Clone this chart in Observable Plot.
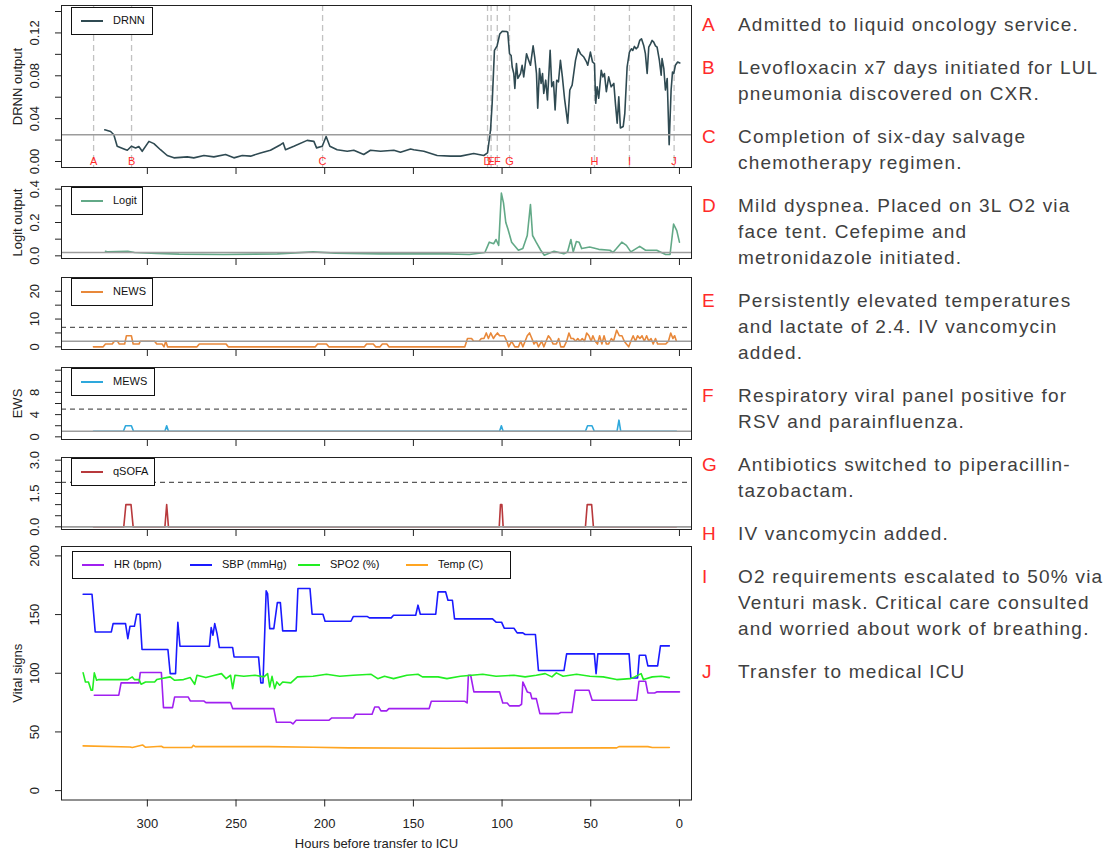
<!DOCTYPE html>
<html>
<head>
<meta charset="utf-8">
<script src="https://cdn.jsdelivr.net/npm/d3@7"></script>
<script src="https://cdn.jsdelivr.net/npm/@observablehq/plot@0.6"></script>
<style>
  body { margin: 0; background: #fff; }
  #wrap { position: relative; width: 1120px; height: 855px; overflow: hidden; font-family: "Liberation Sans", Arial, sans-serif; background:#fff; }
  .panel { position: absolute; left: 0; width: 700px; }
  .panel svg { overflow: visible; display: block; }
  .legend { position: absolute; box-sizing: border-box; border: 1.6px solid #111; background: #fff; font-size: 11px; color: #111; }
  .legend .item { position: absolute; top: 0; height: 100%; }
  .legend .sw { position: absolute; top: 12px; width: 22px; height: 2px; }
  .legend .lb { position: absolute; top: 6px; white-space: nowrap; }
  .notes { position: absolute; left: 700px; top: 12px; color: #404040; font-size: 19px; line-height: 26px; }
  .note { position: relative; margin-bottom: 17px; }
  .note .ltr { position: absolute; left: 2px; top: 0; color: #ff2a2a; }
  .note .txt { margin-left: 38px; white-space: nowrap; letter-spacing: 1.2px; }
</style>
</head>
<body>
<div id="wrap"></div>
<script>
// ---------------- data ----------------
const xTicks = [300, 250, 200, 150, 100, 50, 0];
const eventLetters = ["A","B","C","D","E","F","G","H","I","J"];
const eventHours = [330.3, 308.9, 201.2, 108.2, 106.2, 102.7, 95.8, 47.9, 28.2, 3.0];

const noteLines = [
  ["Admitted to liquid oncology service."],
  ["Levofloxacin x7 days initiated for LUL", "pneumonia discovered on CXR."],
  ["Completion of six-day salvage", "chemotherapy regimen."],
  ["Mild dyspnea. Placed on 3L O2 via", "face tent. Cefepime and", "metronidazole initiated."],
  ["Persistently elevated temperatures", "and lactate of 2.4. IV vancomycin", "added."],
  ["Respiratory viral panel positive for", "RSV and parainfluenza."],
  ["Antibiotics switched to piperacillin-", "tazobactam."],
  ["IV vancomycin added."],
  ["O2 requirements escalated to 50% via", "Venturi mask. Critical care consulted", "and worried about work of breathing."],
  ["Transfer to medical ICU"]
];

const drnnHours = [324, 320.7, 318.9, 317, 313.2, 311.3, 309, 306.6, 304.8, 302.9,
  299.1, 296.3, 292.6, 288.8, 285, 277.5, 273.8, 268.1, 262.5, 255.9,
  251.2, 246.5, 241.8, 236.2, 230.6, 224.9, 223.4, 222.1, 217.4, 209.9,
  206.1, 204.6, 201.4, 199.2, 197.1, 193, 187.3, 183.6, 178, 174.2,
  168.5, 161, 157.3, 151.6, 149.8, 144.1, 136.6, 129.1, 123.4, 116,
  110.3, 108.2, 106.5, 105.6, 104.3, 102.8, 101.3, 99.9, 97.5, 96.8,
  95.8, 94.9, 94.3, 93.4, 92.8, 91.9, 91.1, 89.6, 88.7, 87.8,
  86.2, 85.3, 84, 82.5, 81.6, 80.6, 79.9, 78.9, 78, 77.2,
  76.5, 75.4, 74.4, 72.9, 72, 71, 70.1, 69.2, 68.2, 67.1,
  66, 64.8, 63, 61.8, 60.5, 58.6, 57.1, 55.8, 53.9, 52.4,
  51.7, 50.2, 49, 47.9, 47.2, 46.4, 45.5, 44.1, 43.2, 42.3,
  41.2, 39.9, 38.5, 37, 36.1, 35.1, 34.2, 33.3, 31.7, 30.8,
  29.5, 28.2, 27.1, 26.3, 25.4, 24.4, 23.5, 22.4, 21.4, 20.1,
  19.2, 18.2, 17.3, 16.3, 15.4, 14.5, 13.5, 12.6, 11.3, 10.3,
  9.8, 8.8, 7.9, 6.9, 5.8, 4.7, 3.9, 3.2, 2.3, 1,
  -0.2];
const drnnValues = [0.0296, 0.028, 0.025, 0.0142, 0.0117, 0.0105, 0.0142, 0.0127, 0.014, 0.0095,
  0.0188, 0.0167, 0.011, 0.0056, 0.0034, 0.0043, 0.0034, 0.0056, 0.0043, 0.0065,
  0.0034, 0.0056, 0.005, 0.008, 0.0105, 0.0157, 0.0173, 0.011, 0.0142, 0.0197,
  0.0188, 0.0127, 0.0142, 0.0234, 0.0142, 0.011, 0.0095, 0.0105, 0.0065, 0.0105,
  0.0095, 0.0105, 0.0086, 0.0117, 0.011, 0.0095, 0.0056, 0.005, 0.005, 0.0074,
  0.0056, 0.008, 0.0296, 0.054, 0.1037, 0.108, 0.119, 0.1216, 0.1213, 0.1207,
  0.1006, 0.099, 0.0882, 0.0821, 0.0682, 0.0914, 0.0775, 0.0821, 0.0898, 0.079,
  0.1006, 0.096, 0.0898, 0.108, 0.0975, 0.0821, 0.0497, 0.0867, 0.0729, 0.0821,
  0.0636, 0.0759, 0.0574, 0.1037, 0.0697, 0.0744, 0.0481, 0.0759, 0.0744, 0.0944,
  0.079, 0.059, 0.0358, 0.0667, 0.0713, 0.0944, 0.1052, 0.1006, 0.0975, 0.0929,
  0.0898, 0.1021, 0.0929, 0.0914, 0.0543, 0.0697, 0.059, 0.0852, 0.079, 0.0821,
  0.0651, 0.079, 0.0697, 0.0729, 0.0543, 0.0358, 0.0605, 0.0312, 0.0327, 0.045,
  0.0882, 0.1021, 0.1052, 0.1037, 0.1074, 0.1052, 0.1067, 0.113, 0.1145, 0.108,
  0.1006, 0.0821, 0.1067, 0.1098, 0.113, 0.1114, 0.108, 0.1067, 0.0944, 0.0806,
  0.096, 0.0867, 0.0667, 0.0775, 0.0157, 0.0667, 0.0836, 0.0821, 0.0898, 0.0929,
  0.092];

const logitHours = [323.6, 322.3, 311, 307.3, 294.7, 282.1, 257, 226.7, 206.6, 194,
  168.8, 131.1, 118.5, 109.7, 107.2, 104.7, 103.4, 101.9, 100.4, 99.2,
  97.9, 96.7, 94.6, 90.8, 88.3, 85.8, 84, 82.8, 80.8, 78.2,
  76.2, 70.7, 65.2, 63.1, 61.2, 59.9, 58.1, 56.6, 55.1, 50.6,
  45.5, 39.2, 37.5, 35.5, 32.5, 29.9, 27.4, 22.4, 19.1, 12.8,
  10.8, 7.8, 5.3, 3.3, 1.5, 0];
const logitValues = [0.0276, 0.0235, 0.0276, 0.02, 0.014, 0.01, 0.008, 0.012, 0.0235, 0.016,
  0.012, 0.012, 0.008, 0.02, 0.082, 0.073, 0.098, 0.063, 0.376, 0.318,
  0.2, 0.161, 0.082, 0.0335, 0.0435, 0.122, 0.308, 0.122, 0.082, 0.0335,
  0.004, 0.0276, 0.012, 0.0235, 0.098, 0.0235, 0.086, 0.082, 0.0435, 0.053,
  0.039, 0.0335, 0.02, 0.0435, 0.082, 0.063, 0.0235, 0.057, 0.0335, 0.0335,
  0.0235, 0.008, 0.008, 0.19, 0.151, 0.082];

const newsHours = [330.4, 324.9, 323.6, 319.8, 318.6, 316.8, 315.8, 312.8, 311.8, 309,
  308, 304.7, 304, 295.9, 294.7, 291.6, 290.6, 289.6, 288.6, 272,
  270.7, 255.6, 254.4, 205.3, 204, 199, 197.7, 177.6, 176.4, 172.6,
  171.3, 168.8, 167.5, 165, 163.8, 121, 119.5, 117.2, 116, 113,
  111.7, 110.2, 108.9, 107.7, 106.4, 104.9, 103.9, 102.6, 101.4, 98.8,
  97.3, 96.3, 94.6, 92.8, 90.8, 89.5, 88.3, 87, 85.8, 84.5,
  83.2, 82, 80.7, 79.5, 77.7, 76.4, 75.2, 73.9, 72.7, 71.2,
  69.4, 68.1, 66.9, 65.1, 63.6, 62.3, 61.1, 59.8, 58.6, 57.3,
  56.1, 54.8, 53.5, 52.3, 51, 49.8, 48.8, 47.5, 46.2, 45,
  43.7, 42.5, 41.2, 40, 38.4, 37.2, 35.4, 33.9, 32.4, 31.1,
  29.9, 28.6, 27.4, 26.1, 24.8, 23.6, 22.3, 21.1, 19.8, 18.5,
  17.3, 16, 14.8, 13.5, 12.3, 11, 7.7, 6.2, 4.9, 3.7,
  2.7, 1.7];
const newsValues = [0,0,1,1,2,2,1,1,4,4,
  1,1,2,2,1,1,0,2,0,0,
  1,1,0,0,1,1,0,0,1,1,
  0,0,1,1,0,0,3,3,2,2,
  3,3,5,3,5,3,4,5,4,4,
  2,0,2,0,0,2,0,2,4,5,
  3,1,2,0,2,0,2,4,3,1,
  1,3,0,0,2,5,3,3,2,3,
  2,3,2,5,4,2,4,2,1,4,
  1,4,1,1,3,2,6,4,4,2,
  1,0,2,4,2,4,3,4,2,4,
  2,3,1,3,1,1,1,2,5,3,
  4,2];

const mewsHours = [330.4, 313.5, 312.3, 309.0, 307.8, 290.1, 289.1, 288.1, 101.4, 100.4, 99.4, 53.0, 51.8, 49.3, 48.0, 35.2, 34.1, 33.1, 1.7];
const mewsValues = [1,1,2,2,1,1,2,1,1,2,1,1,2,2,1,1,3,1,1];

const qsofaHours = [330.4, 313.3, 312.1, 309.2, 308.0, 290.1, 289.1, 288.1, 101.6, 100.9, 100.1, 99.4, 53.0, 52.0, 49.5, 48.5, 1.7];
const qsofaValues = [0,0,1,1,0,0,1,0,0,1,1,0,0,1,1,0,0];

const hrHours = [329.9, 316.1, 314.8, 304.7, 304, 292.1, 290.9, 285.8, 284.6, 277,
  275.8, 268.2, 267, 253.1, 251.9, 228.7, 227.2, 219.1, 217.9, 216.1,
  197.7, 196, 183.9, 182.6, 173.3, 171.8, 169.6, 168.3, 165.1, 163.8,
  141.1, 139.9, 121, 119.7, 119, 117.7, 115.9, 101.4, 99.6, 97.1,
  95.8, 90.3, 89, 88.3, 87, 85.8, 84, 83.2, 80.7, 78.7,
  68.1, 66.9, 60.6, 58.8, 51, 49.2, 24.1, 22.8, 19.1, 17.8,
  14, 12.8, 0];
const hrValues = [81.3, 81.3, 91.8, 91.8, 100.6, 100.6, 70.7, 70.7, 79.8, 79.8,
  76.4, 76.4, 75, 75, 69.9, 69.9, 58.2, 58.2, 56.8, 59.9,
  59.9, 61.9, 61.9, 65.1, 65.1, 71.3, 71.3, 67.9, 67.9, 69.9,
  69.9, 76.1, 76.1, 74.7, 98.3, 98.3, 84.1, 84.1, 74.7, 74.7,
  72.2, 72.2, 73.6, 92.6, 88.4, 84.1, 83.2, 78.4, 78.4, 65.6,
  65.6, 66.5, 66.5, 85.5, 85.5, 77, 77, 93.2, 93.2, 83.2,
  83.2, 84.1, 84.1];

const sbpHours = [336.2, 331.2, 329.4, 320.3, 319.3, 312.3, 311, 309.8, 307.3, 306,
  304.2, 303, 288.4, 287.1, 284.1, 282.8, 281.6, 265, 264, 263,
  262, 260.7, 259.4, 251.9, 251.1, 237.3, 236, 234.8, 233, 232.2,
  231, 228.7, 226.7, 225, 223.7, 216.1, 215.1, 208.3, 207.1, 201,
  199.8, 185.2, 183.9, 175.9, 174.8, 162.5, 161.2, 148.7, 147.4, 146.1,
  137.4, 136.1, 131.8, 130.5, 128, 126.8, 105.4, 103.4, 100.3, 98.8,
  93.3, 91.5, 88.3, 87, 81.2, 79.5, 65.1, 63.6, 48, 47,
  46, 28.4, 27.4, 23.6, 22.6, 19.1, 17.8, 12.3, 10.7, 5.7];
const sbpValues = [167.3, 167.3, 135.2, 135.2, 142.3, 142.3, 129.5, 140, 140, 150.3,
  150.3, 120.2, 120.2, 99.7, 99.7, 143.5, 123, 123, 138.9, 132.4,
  142.3, 133.8, 121.9, 121.9, 113.9, 113.9, 91.8, 91.8, 170.2, 167.9,
  138, 138, 160.2, 160.2, 136.1, 136.1, 172.2, 172.2, 150.3, 150.3,
  144.3, 144.3, 148.3, 148.3, 147.2, 147.2, 149.4, 149.4, 158, 150.3,
  150.3, 169.3, 169.3, 162.2, 162.2, 146.3, 146.3, 143.5, 143.5, 138.4,
  138.4, 134.4, 134.4, 133, 133, 102.3, 102.3, 116.5, 116.5, 99.7,
  116.5, 116.5, 96, 96, 115.4, 115.4, 106.3, 106.3, 123.3, 123.3];

const spo2Hours = [336.2, 334.9, 333.2, 331.7, 330.9, 329.9, 328.6, 327.4, 311, 308.5,
  307.3, 304.7, 303.5, 301, 295.9, 294.7, 287.1, 284.6, 279.6, 275.8,
  273.3, 272, 267, 262, 258.2, 255.6, 253.1, 251.9, 250.6, 245.6,
  239.3, 234.3, 232.2, 231, 229.7, 228.2, 227, 225.4, 223.7, 219.1,
  215.4, 206.6, 199, 191.5, 183.9, 173.8, 170.1, 166.3, 161.2, 153.7,
  147.4, 144.9, 136.1, 131.1, 123.5, 110.9, 103.4, 93.3, 87, 80.7,
  75.7, 71.9, 69.4, 65.6, 58, 50.5, 43, 35.4, 27.8, 25.3,
  21.6, 20.3, 15.3, 10.2, 5.7];
const spo2Values = [100.3, 92.6, 92.6, 85.5, 85.5, 100.3, 94, 94.6, 94.6, 96.9,
  94.6, 94.6, 90.6, 92.6, 92.6, 94.6, 96.9, 94, 94.6, 96.3,
  90.6, 98.3, 96.3, 98.3, 99.7, 95.4, 98.3, 86.9, 98.3, 97.4,
  98.3, 96.9, 99.7, 88.4, 97.4, 86.9, 92.6, 89.8, 92.6, 91.8,
  96.9, 97.4, 99.1, 97.4, 98.3, 99.1, 95.4, 97.4, 95.4, 98.3,
  99.1, 96.9, 96.9, 95.4, 97.4, 99.1, 97.4, 98.3, 96.9, 98.3,
  99.7, 96.9, 100.3, 97.4, 99.1, 97.4, 96.9, 94.6, 95.4, 96.9,
  99.7, 94.6, 96.9, 97.4, 96.3];

const tempHours = [336.2, 309.8, 308.5, 302.7, 301, 292.1, 290.9, 275, 274, 273, 231.7, 206.6, 186.4, 131.1, 35.4, 34.1, 17.8, 15.3, 5.7];
const tempValues = [38.1, 37.2, 36.7, 38.9, 36.9, 37.8, 36.7, 36.7, 38.6, 37.5, 37.5, 36.9, 36.4, 36.1, 36.4, 37.5, 37.5, 36.7, 36.7];

// ---------------- helpers ----------------
const toRows = (hs, vs) => hs.map((h, i) => ({h, v: vs[i]}));
const FONT = "Liberation Sans, Arial, Helvetica, sans-serif";
const X_DOMAIN = [348.4, -6.8];
const LEFT = 61, RIGHT = 9, MT = 2;
const wrap = document.getElementById("wrap");

function panel(cfg) {
  const marks = [];
  if (cfg.events) {
    marks.push(Plot.ruleX(eventHours, {x: d => d, stroke: "#c2c2c2", strokeWidth: 1.3, strokeDasharray: "6,4"}));
    marks.push(Plot.text(eventLetters, {x: (d, i) => eventHours[i], text: d => d, frameAnchor: "bottom", dy: -3, lineAnchor: "bottom", fill: "#ff2a2a", fontSize: 11}));
  }
  for (const s of cfg.series) {
    marks.push(Plot.line(s.data, {x: "h", y: "v", stroke: s.color, strokeWidth: 1.6}));
  }
  if (cfg.dashed != null) marks.push(Plot.ruleY([cfg.dashed], {stroke: "#5a5a5a", strokeWidth: 1.2, strokeDasharray: "5,4"}));
  if (cfg.solid != null) marks.push(Plot.ruleY([cfg.solid], {stroke: "#9c9c9c", strokeWidth: 1.6}));
  marks.push(Plot.frame({stroke: "#222", strokeWidth: 1}));
  marks.push(Plot.axisY({ticks: cfg.yTicks, tickSize: 6, tickFormat: () => "", label: null, stroke: "#222"}));
  marks.push(Plot.text(cfg.yLabels, {y: d => d, text: cfg.fmt, frameAnchor: "left", dx: -27, rotate: -90, textAnchor: "middle", lineAnchor: "middle", fontSize: 13, fill: "#222"}));
  if (cfg.title) marks.push(Plot.text([cfg.title], {text: d => d, frameAnchor: "left", dx: -44, rotate: -90, textAnchor: "middle", lineAnchor: "middle", fontSize: 13, fill: "#222"}));
  if (cfg.xLabels) {
    marks.push(Plot.axisX({ticks: xTicks, tickSize: 7, tickPadding: 12, fontSize: 13, label: null, stroke: "#222", fill: "#222"}));
    marks.push(Plot.text(["Hours before transfer to ICU"], {text: d => d, frameAnchor: "bottom", dy: 44, lineAnchor: "middle", fontSize: 13, fill: "#222"}));
  } else {
    marks.push(Plot.axisX({ticks: xTicks, tickSize: 7, tickFormat: () => "", label: null, stroke: "#222"}));
  }
  const mb = cfg.mb;
  const plot = Plot.plot({
    width: 700,
    height: MT + (cfg.bottom - cfg.top) + mb,
    marginLeft: LEFT, marginRight: RIGHT, marginTop: MT, marginBottom: mb,
    x: {domain: X_DOMAIN},
    y: {domain: cfg.yDomain},
    style: {fontFamily: FONT, background: "transparent", overflow: "visible", color: "#222"},
    marks
  });
  const div = document.createElement("div");
  div.className = "panel";
  div.style.top = (cfg.top - MT) + "px";
  div.appendChild(plot);
  wrap.appendChild(div);

  // legend box (R-style, inside plot region)
  const lg = document.createElement("div");
  lg.className = "legend";
  lg.style.left = cfg.legend.left + "px";
  lg.style.top = cfg.legend.top + "px";
  lg.style.width = cfg.legend.width + "px";
  lg.style.height = "28px";
  cfg.series.forEach((s, i) => {
    const it = document.createElement("div");
    it.className = "item";
    it.style.left = (i * 108) + "px";
    const sw = document.createElement("div");
    sw.className = "sw"; sw.style.left = "9px"; sw.style.background = s.color;
    const lb = document.createElement("div");
    lb.className = "lb"; lb.style.left = "41px"; lb.textContent = s.name;
    it.appendChild(sw); it.appendChild(lb);
    lg.appendChild(it);
  });
  wrap.appendChild(lg);
}

panel({
  top: 5, bottom: 167, mb: 12, yDomain: [-0.0056, 0.1456], events: true,
  series: [{name: "DRNN", color: "#2f4a52", data: toRows(drnnHours, drnnValues)}],
  solid: 0.025, yTicks: [0, 0.02, 0.04, 0.06, 0.08, 0.10, 0.12, 0.14], yLabels: [0, 0.04, 0.08, 0.12],
  fmt: d3.format(".2f"), title: "DRNN output", legend: {left: 71, top: 7, width: 82}
});
panel({
  top: 186, bottom: 258, mb: 12, yDomain: [-0.016, 0.416],
  series: [{name: "Logit", color: "#62a987", data: toRows(logitHours, logitValues)}],
  solid: 0.02, yTicks: [0, 0.1, 0.2, 0.3, 0.4], yLabels: [0, 0.2, 0.4],
  fmt: d3.format(".1f"), title: "Logit output", legend: {left: 71, top: 187, width: 72}
});
panel({
  top: 276.5, bottom: 348.5, mb: 12, yDomain: [-0.96, 24.96],
  series: [{name: "NEWS", color: "#e8883a", data: toRows(newsHours, newsValues)}],
  solid: 2, dashed: 7, yTicks: [0, 5, 10, 15, 20], yLabels: [0, 10, 20],
  fmt: d3.format("d"), legend: {left: 71, top: 277.5, width: 82}
});
panel({
  top: 366.5, bottom: 438.5, mb: 12, yDomain: [-0.48, 12.48],
  series: [{name: "MEWS", color: "#2ea8dc", data: toRows(mewsHours, mewsValues)}],
  solid: 1, dashed: 5, yTicks: [0, 2, 4, 6, 8, 10, 12], yLabels: [0, 4, 8],
  fmt: d3.format("d"), title: "EWS", legend: {left: 71, top: 367.5, width: 84}
});
panel({
  top: 457, bottom: 529, mb: 12, yDomain: [-0.12, 3.12],
  series: [{name: "qSOFA", color: "#b8393c", data: toRows(qsofaHours, qsofaValues)}],
  solid: 0, dashed: 2, yTicks: [0, 0.5, 1, 1.5, 2, 2.5, 3], yLabels: [0, 1.5, 3],
  fmt: d3.format(".1f"), legend: {left: 71, top: 458, width: 84}
});
panel({
  top: 546, bottom: 799.5, mb: 55, yDomain: [-8, 208], xLabels: true,
  series: [
    {name: "HR (bpm)", color: "#a020f0", data: toRows(hrHours, hrValues)},
    {name: "SBP (mmHg)", color: "#1a1aff", data: toRows(sbpHours, sbpValues)},
    {name: "SPO2 (%)", color: "#22ee22", data: toRows(spo2Hours, spo2Values)},
    {name: "Temp (C)", color: "#ffa521", data: toRows(tempHours, tempValues)}
  ],
  yTicks: [0, 50, 100, 150, 200], yLabels: [0, 50, 100, 150, 200],
  fmt: d3.format("d"), title: "Vital signs", legend: {left: 72, top: 551, width: 439}
});

// annotations on the right
const notes = document.createElement("div");
notes.className = "notes";
noteLines.forEach((lines, i) => {
  const n = document.createElement("div");
  n.className = "note";
  const l = document.createElement("div");
  l.className = "ltr"; l.textContent = eventLetters[i];
  const t = document.createElement("div");
  t.className = "txt";
  lines.forEach(line => { const d = document.createElement("div"); d.textContent = line; t.appendChild(d); });
  n.appendChild(l); n.appendChild(t);
  notes.appendChild(n);
});
wrap.appendChild(notes);
</script>
</body>
</html>
